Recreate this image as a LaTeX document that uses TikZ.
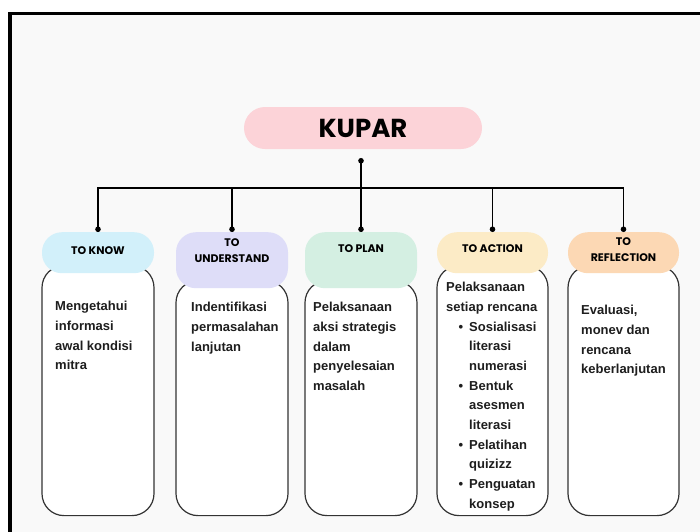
\documentclass[tikz,border=0pt]{standalone}
\usepackage{fontspec}
\setmainfont{Liberation Sans}
\newfontfamily\headfont{Poppins}
\usetikzlibrary{arrows.meta}

\definecolor{pagebg}{HTML}{F9F9F9}
\definecolor{kuparcol}{HTML}{FCD3D8}
\definecolor{knowcol}{HTML}{D2F0FA}
\definecolor{understandcol}{HTML}{DEDDF8}
\definecolor{plancol}{HTML}{D4EFE2}
\definecolor{actioncol}{HTML}{FCEBC6}
\definecolor{reflectcol}{HTML}{FCD8B4}
\definecolor{boxline}{HTML}{333333}
\definecolor{bodyink}{HTML}{1E1E1E}

\tikzset{
  title/.style={fill=kuparcol, rounded corners=21pt, minimum width=238pt, minimum height=42pt, inner sep=0pt, font=\headfont\bfseries\fontsize{26}{30}\selectfont},
  head/.style={fill=#1, rounded corners=20pt, minimum width=112pt, minimum height=41pt, inner sep=0pt, anchor=north},
  headlbl/.style={align=center, inner sep=0pt, font=\headfont\bfseries\fontsize{11}{16}\selectfont},
  bodybox/.style={draw=boxline, fill=white, line width=1.2pt, rounded corners=22pt, minimum width=112pt, inner sep=0pt, anchor=north},
  bodytext/.style={anchor=north west, align=left, inner sep=0pt, text=bodyink, font=\bfseries\fontsize{13}{19.7}\selectfont},
  link/.style={line width=1.3pt, -{Circle[length=5.5pt]}}
}

\begin{document}
\begin{tikzpicture}[x=1pt,y=-1pt]
\useasboundingbox (0,0) rectangle (700,531);
\clip (0,0) rectangle (700,531);
\fill[white] (0,0) rectangle (700,531);
\draw[line width=3.5pt, fill=pagebg] (10,13.5) rectangle (720,560);

\node[title] (kupar) at (363,128) {KUPAR};

\node[bodybox, minimum height=250pt] (know-body) at (98,265) {};
\node[bodybox, minimum height=235pt] (understand-body) at (232,280) {};
\node[bodybox, minimum height=235pt] (plan-body) at (361,280) {};
\node[bodybox, minimum height=250pt, minimum width=111pt] (action-body) at (492.5,265) {};
\node[bodybox, minimum height=250pt, minimum width=111pt] (reflect-body) at (623.5,265) {};

\node[head=knowcol] (know) at (98,232) {};
\node[head=understandcol, minimum height=56pt] (understand) at (232,232) {};
\node[head=plancol, minimum height=56pt] (plan) at (361,232) {};
\node[head=actioncol, minimum width=111pt] (action) at (492.5,232) {};
\node[head=reflectcol, minimum width=111pt] (reflect) at (623.5,232) {};

\node[headlbl] (know-lbl) at (98,251) {TO KNOW};
\node[headlbl] (understand-lbl) at (232,251) {TO\\UNDERSTAND};
\node[headlbl] (plan-lbl) at (361,249) {TO PLAN};
\node[headlbl] (action-lbl) at (492.5,249) {TO ACTION};
\node[headlbl] (reflect-lbl) at (623.5,249.5) {TO\\REFLECTION};

\node[bodytext] (know-txt) at (55,301) {Mengetahui\\informasi\\awal kondisi\\mitra};
\node[bodytext] (understand-txt) at (191,302) {Indentifikasi\\permasalahan\\lanjutan};
\node[bodytext] (plan-txt) at (313,302) {Pelaksanaan\\aksi strategis\\dalam\\penyelesaian\\masalah};
\node[bodytext] (action-txt) at (446,282) {Pelaksanaan\\setiap rencana\\
\makebox[23pt][r]{\textbullet\hspace{6pt}}Sosialisasi\\\hspace*{23pt}literasi\\\hspace*{23pt}numerasi\\
\makebox[23pt][r]{\textbullet\hspace{6pt}}Bentuk\\\hspace*{23pt}asesmen\\\hspace*{23pt}literasi\\
\makebox[23pt][r]{\textbullet\hspace{6pt}}Pelatihan\\\hspace*{23pt}quizizz\\
\makebox[23pt][r]{\textbullet\hspace{6pt}}Penguatan\\\hspace*{23pt}konsep};
\node[bodytext] (reflect-txt) at (581,305) {Evaluasi,\\monev dan\\rencana\\keberlanjutan};

\coordinate (hub) at (361,158);
\coordinate (bar) at (361,188);
\draw[line width=1.3pt, {Circle[length=5.5pt]}-] (hub) -- (bar);
\foreach \h in {know,understand,plan,action,reflect}
  \draw[link] (bar) -| (\h.north);
\end{tikzpicture}
\end{document}
